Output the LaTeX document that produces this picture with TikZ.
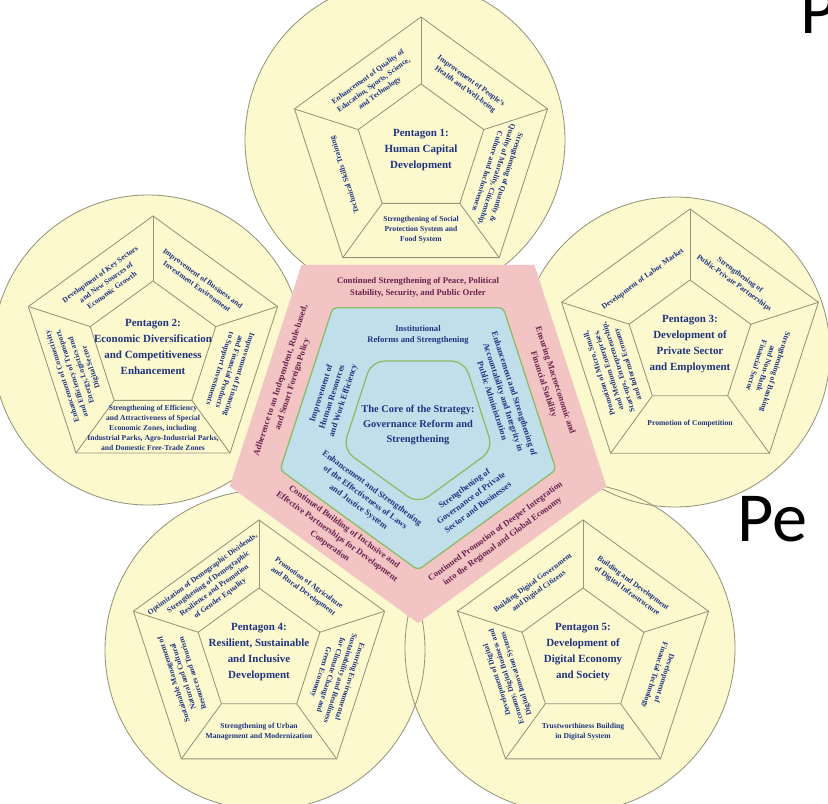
\documentclass[tikz,border=0pt]{standalone}
\usepackage{fontspec}
\setmainfont{Liberation Serif}
\newfontfamily\slidefont{Carlito}
\usetikzlibrary{shapes.geometric}

\definecolor{circfill}{RGB}{252,249,206}
\definecolor{circline}{RGB}{150,148,122}
\definecolor{pinkfill}{RGB}{242,196,196}
\definecolor{bluefill}{RGB}{192,223,235}
\definecolor{greenline}{RGB}{138,188,100}
\definecolor{navytext}{RGB}{32,52,128}
\definecolor{maroontext}{RGB}{105,35,78}

\tikzset{
	pentout/.style={regular polygon, regular polygon sides=5, minimum size=#1*0.05cm, inner sep=0pt, outer sep=0pt, draw=circline, fill=circfill, line width=0.6pt},
	pentin/.style={regular polygon, regular polygon sides=5, minimum size=#1*0.05cm, inner sep=0pt, outer sep=0pt, draw=circline, line width=0.6pt},
	pentcore/.style={regular polygon, regular polygon sides=5, shape border rotate=180, minimum size=#1*0.05cm, inner sep=0pt, outer sep=0pt},
	spoke/.style={draw=circline, line width=0.6pt},
	segtext/.style={text=navytext, font=\fontsize{5.4}{7.1}\selectfont\bfseries, align=center, inner sep=0pt},
	titletext/.style={text=navytext, font=\fontsize{7.8}{11.4}\selectfont\bfseries, align=center, inner sep=0pt},
	pinktext/.style={text=maroontext, font=\fontsize{6.2}{8.6}\selectfont\bfseries, align=center, inner sep=0pt},
	bluetext/.style={text=navytext, font=\fontsize{6.1}{8.2}\selectfont\bfseries, align=center, inner sep=0pt},
	coretext/.style={text=navytext, font=\fontsize{7.4}{10.6}\selectfont\bfseries, align=center, inner sep=0pt},
	slidetext/.style={text=black, font=\slidefont\fontsize{50}{60}\selectfont, inner sep=0pt}
}

\begin{document}
\begin{tikzpicture}[x=0.025cm, y=0.025cm]

	\useasboundingbox (0,0) rectangle (828,-803);
	\fill[white] (0,0) rectangle (828,-803);

	\node[slidetext, anchor=base west] (slidep) at (800,-33) {P};
	\node[slidetext, anchor=base west] (slidepe) at (737,-541) {Pe};

	\foreach \cx/\cy/\r in {405/-140/160, 148/-350/155, 675/-352/155, 265/-650/160, 570/-648/165}
		\fill[circfill] (\cx,\cy) circle[radius=\r];
	\foreach \cx/\cy/\r in {405/-140/160, 148/-350/155, 675/-352/155, 265/-650/160, 570/-648/165}
		\draw[circline, line width=0.6pt] (\cx,\cy) circle[radius=\r];

	\coordinate (c1) at (421,-150);
	\coordinate (c2) at (153,-347);
	\coordinate (c3) at (690,-344);
	\coordinate (c4) at (259,-652);
	\coordinate (c5) at (583,-652);

	% pentagon 1
	\node[pentout=133] (p1out) at (c1) {};
	\node[pentin=66] (p1in) at (c1) {};
	\foreach \i in {1,...,5}
		\draw[spoke] (p1out.corner \i) -- (p1in.corner \i);
	\node[titletext] (p1title) at (c1) {Pentagon 1:\\Human Capital\\Development};
	\node[segtext, rotate=36] (p1s1) at ([shift={(c1)}]126:80) {Enhancement of Quality of\\Education, Sports, Science,\\and Technology};
	\node[segtext, rotate=-36] (p1s2) at ([shift={(c1)}]54:80) {Improvement of People's\\Health and Well-being};
	\node[segtext, rotate=-108] (p1s3) at ([shift={(c1)}]-18:80) {Strengthening of Quantity \&\\Quality of Morality, Citizenship,\\Culture and Inclusiveness};
	\node[segtext] (p1s4) at ([shift={(c1)}]-90:80) {Strengthening of Social\\Protection System and\\Food System};
	\node[segtext, rotate=108] (p1s5) at ([shift={(c1)}]198:80) {Technical Skills Training};

	% pentagon 2
	\node[pentout=131] (p2out) at (c2) {};
	\node[pentin=66] (p2in) at (c2) {};
	\foreach \i in {1,...,5}
		\draw[spoke] (p2out.corner \i) -- (p2in.corner \i);
	\node[titletext] (p2title) at (c2) {Pentagon 2:\\Economic Diversification\\and Competitiveness\\Enhancement};
	\node[segtext, rotate=36] (p2s1) at ([shift={(c2)}]126:80) {Development of Key Sectors\\and New Sources of\\Economic Growth};
	\node[segtext, rotate=-36] (p2s2) at ([shift={(c2)}]54:80) {Improvement of Business and\\Investment Environment};
	\node[segtext, rotate=-108] (p2s3) at ([shift={(c2)}]-18:80) {Improvement of Financing\\and Financial Products\\to Support Investments};
	\node[segtext] (p2s4) at ([shift={(c2)}]-90:81) {Strengthening of Efficiency\\and Attractiveness of Special\\Economic Zones, including\\Industrial Parks, Agro-Industrial Parks,\\and Domestic Free-Trade Zones};
	\node[segtext, rotate=108] (p2s5) at ([shift={(c2)}]198:80) {Enhancement of Connectivity\\and Efficiency of Transport,\\Energy, Logistics and\\Digital Sector};

	% pentagon 3
	\node[pentout=135] (p3out) at (c3) {};
	\node[pentin=64] (p3in) at (c3) {};
	\foreach \i in {1,...,5}
		\draw[spoke] (p3out.corner \i) -- (p3in.corner \i);
	\node[titletext] (p3title) at (c3) {Pentagon 3:\\Development of\\Private Sector\\and Employment};
	\node[segtext, rotate=36] (p3s1) at ([shift={(c3)}]126:80) {Development of Labor Market};
	\node[segtext, rotate=-36] (p3s2) at ([shift={(c3)}]54:80) {Strengthening of\\Public-Private Partnerships};
	\node[segtext, rotate=-108] (p3s3) at ([shift={(c3)}]-18:80) {Strengthening of Banking\\and Non-Bank\\Financial Sector};
	\node[segtext] (p3s4) at ([shift={(c3)}]-90:80) {Promotion of Competition};
	\node[segtext, rotate=108] (p3s5) at ([shift={(c3)}]198:80) {Promotion of Micro, Small,\\and Medium Enterprises,\\Start-ups, Entrepreneurship,\\and Informal Economy};

	% pentagon 4
	\node[pentout=132] (p4out) at (c4) {};
	\node[pentin=64] (p4in) at (c4) {};
	\foreach \i in {1,...,5}
		\draw[spoke] (p4out.corner \i) -- (p4in.corner \i);
	\node[titletext] (p4title) at (c4) {Pentagon 4:\\Resilient, Sustainable\\and Inclusive\\Development};
	\node[segtext, rotate=36] (p4s1) at ([shift={(c4)}]126:81) {Optimization of Demographic Dividends,\\Strengthening of Demographic\\Resilience and Promotion\\of Gender Equality};
	\node[segtext, rotate=-36] (p4s2) at ([shift={(c4)}]54:80) {Promotion of Agriculture\\and Rural Development};
	\node[segtext, rotate=-108] (p4s3) at ([shift={(c4)}]-18:80) {Ensuring Environmental\\Sustainability and Readiness\\for Climate Change and\\Green Economy};
	\node[segtext] (p4s4) at ([shift={(c4)}]-90:80) {Strengthening of Urban\\Management and Modernization};
	\node[segtext, rotate=108] (p4s5) at ([shift={(c4)}]198:80) {Sustainable Management of\\Natural and Cultural\\Resources and Tourism};

	% pentagon 5
	\node[pentout=132] (p5out) at (c5) {};
	\node[pentin=64] (p5in) at (c5) {};
	\foreach \i in {1,...,5}
		\draw[spoke] (p5out.corner \i) -- (p5in.corner \i);
	\node[titletext] (p5title) at (c5) {Pentagon 5:\\Development of\\Digital Economy\\and Society};
	\node[segtext, rotate=36] (p5s1) at ([shift={(c5)}]126:80) {Building Digital Government\\and Digital Citizens};
	\node[segtext, rotate=-36] (p5s2) at ([shift={(c5)}]54:80) {Building and Development\\of Digital Infrastructure};
	\node[segtext, rotate=-108] (p5s3) at ([shift={(c5)}]-18:80) {Development of\\Financial Technology};
	\node[segtext] (p5s4) at ([shift={(c5)}]-90:80) {Trustworthiness Building\\in Digital System};
	\node[segtext, rotate=108] (p5s5) at ([shift={(c5)}]198:80) {Development of Digital\\Economy, Digital Business and\\Digital Innovation Systems};

	% core
	\coordinate (pc) at (418,-425);
	\node[pentcore=198, fill=pinkfill] (pinkpent) at (pc) {};
	\node[pentcore=145, fill=bluefill, draw=greenline, line width=0.9pt, rounded corners=3pt] (bluepent) at (pc) {};
	\node[pentcore=79, fill=bluefill, draw=greenline, line width=0.9pt, rounded corners=9pt] (corepent) at (pc) {};

	\node[pinktext] (pk1) at ([shift={(pc)}]90:138) {Continued Strengthening of Peace, Political\\Stability, Security, and Public Order};
	\node[pinktext, rotate=-72] (pk2) at ([shift={(pc)}]18:138) {Ensuring Macroeconomic and\\Financial Stability};
	\node[pinktext, rotate=36] (pk3) at ([shift={(pc)}]-54:138) {Continued Promotion of Deeper Integration\\into the Regional and Global Economy};
	\node[pinktext, rotate=-36] (pk4) at ([shift={(pc)}]234:138) {Continued Building of Inclusive and\\Effective Partnerships for Development\\Cooperation};
	\node[pinktext, rotate=72] (pk5) at ([shift={(pc)}]162:138) {Adherence to an Independent, Rule-based,\\and Smart Foreign Policy};

	\node[bluetext] (bl1) at ([shift={(pc)}]90:90) {Institutional\\Reforms and Strengthening};
	\node[bluetext, rotate=-72] (bl2) at ([shift={(pc)}]18:90) {Enhancement and Strengthening of\\Accountability and Integrity in\\Public Administration};
	\node[bluetext, rotate=36] (bl3) at ([shift={(pc)}]-54:90) {Strengthening of\\Governance of Private\\Sector and Businesses};
	\node[bluetext, rotate=-36] (bl4) at ([shift={(pc)}]234:90) {Enhancement and Strengthening\\of the Effectiveness of Laws\\and Justice System};
	\node[bluetext, rotate=72] (bl5) at ([shift={(pc)}]162:90) {Improvement of\\Human Resources\\and Work Efficiency};

	\node[coretext] (core) at (pc) {The Core of the Strategy:\\Governance Reform and\\Strengthening};

\end{tikzpicture}
\end{document}
